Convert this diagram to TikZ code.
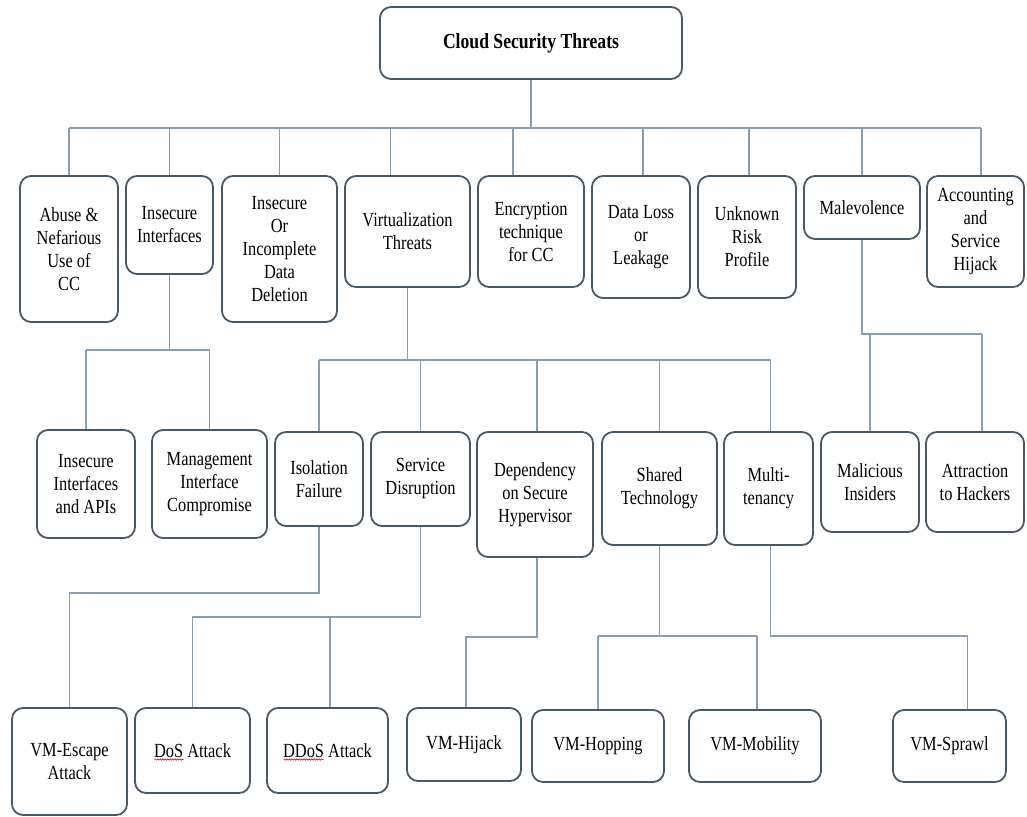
\documentclass[tikz,border=0pt]{standalone}
\usepackage{fontspec}
\setmainfont{Liberation Serif}
\newfontfamily\cfont[FakeStretch=0.82]{Liberation Serif}
\usetikzlibrary{decorations.pathmorphing}
\definecolor{boxline}{HTML}{4A5866}
\definecolor{connc}{HTML}{8A9DB2}
\begin{document}
\begin{tikzpicture}[x=1pt,y=-1pt,
  box/.style={draw=boxline,line width=1.8pt,rounded corners=11pt,fill=white,inner sep=0pt,align=center,font=\cfont\fontsize{20}{23}\selectfont},
  conn/.style={draw=connc,line width=1.6pt},
  wavy/.style={draw=red,line width=0.6pt,decorate,decoration={snake,amplitude=0.7pt,segment length=2.5pt}}]
\useasboundingbox (0,0) rectangle (1027,816);
% root
\node[box,minimum width=302pt,minimum height=72pt,font=\cfont\fontsize{21.5}{24}\selectfont\bfseries] (root) at (531,43) {Cloud Security Threats};
% level 1
\node[box,minimum width=98pt,minimum height=146pt] (ab) at (69,249) {Abuse \&\\Nefarious\\Use of\\CC};
\node[box,minimum width=87pt,minimum height=98pt] (ii) at (169.5,225) {Insecure\\Interfaces};
\node[box,minimum width=115pt,minimum height=146pt] (iod) at (279.5,249) {Insecure\\Or\\Incomplete\\Data\\Deletion};
\node[box,minimum width=125pt,minimum height=111pt] (vt) at (407.5,231.5) {Virtualization\\Threats};
\node[box,minimum width=106pt,minimum height=111pt] (enc) at (531,231.5) {Encryption\\technique\\for CC};
\node[box,minimum width=98pt,minimum height=122pt] (dl) at (641,237) {Data Loss\\or\\Leakage};
\node[box,minimum width=98pt,minimum height=122pt] (ur) at (747,237) {Unknown\\Risk\\Profile};
\node[box,minimum width=116pt,minimum height=63pt] (mal) at (862,207.5) {Malevolence};
\node[box,minimum width=97pt,minimum height=111pt] (acc) at (975.5,231.5) {Accounting\\and\\Service\\Hijack};
% level 2
\node[box,minimum width=98pt,minimum height=108pt] (iapi) at (86,484) {Insecure\\Interfaces\\and APIs};
\node[box,minimum width=115pt,minimum height=108pt] (mic) at (209.5,484) {Management\\Interface\\Compromise};
\node[box,minimum width=88pt,minimum height=94pt] (iso) at (319,479) {Isolation\\Failure};
\node[box,minimum width=99pt,minimum height=94pt] (sd) at (420.5,479) {Service\\Disruption};
\node[box,minimum width=116pt,minimum height=125pt] (dep) at (535,494.5) {Dependency\\on Secure\\Hypervisor};
\node[box,minimum width=115pt,minimum height=113pt] (st) at (659.5,488.5) {Shared\\Technology};
\node[box,minimum width=89pt,minimum height=113pt] (mt) at (768.5,488.5) {Multi-\\tenancy};
\node[box,minimum width=98pt,minimum height=100pt] (mi) at (870,482) {Malicious\\Insiders};
\node[box,minimum width=98pt,minimum height=100pt] (ath) at (975,482) {Attraction\\to Hackers};
% level 3
\node[box,minimum width=115pt,minimum height=107pt] (vme) at (69.5,761.5) {VM-Escape\\Attack};
\node[box,minimum width=115pt,minimum height=85pt] (dos) at (192.5,750.5) {DoS Attack};
\node[box,minimum width=121pt,minimum height=85pt] (ddos) at (327.5,750.5) {DDoS Attack};
\node[box,minimum width=114pt,minimum height=73pt] (vmh) at (464,744.5) {VM-Hijack};
\node[box,minimum width=132pt,minimum height=72pt] (vhop) at (598,746) {VM-Hopping};
\node[box,minimum width=132pt,minimum height=72pt] (vmob) at (755,746) {VM-Mobility};
\node[box,minimum width=113pt,minimum height=72pt] (vsp) at (949.5,746) {VM-Sprawl};
% spell-check underlines
\draw[wavy] ([xshift=-38pt,yshift=-9pt]dos.center) -- ([xshift=-9pt,yshift=-9pt]dos.center);
\draw[wavy] ([xshift=-44pt,yshift=-9pt]ddos.center) -- ([xshift=-4pt,yshift=-9pt]ddos.center);
% bus coordinates
\coordinate (b0) at (0,128);
\coordinate (b1) at (0,350);
\coordinate (b2) at (0,360);
\coordinate (b3) at (0,334);
\coordinate (b4) at (0,593);
\coordinate (b5) at (0,617);
\coordinate (b6) at (0,637);
\coordinate (b7) at (0,636);
% root connectors
\draw[conn] (root.south) -- (root.south |- b0);
\draw[conn] (ab.north |- b0) -- ([xshift=5.5pt]acc.north |- b0);
\draw[conn] (ab.north) -- (ab.north |- b0);
\draw[conn] (ii.north) -- (ii.north |- b0);
\draw[conn] (iod.north) -- (iod.north |- b0);
\draw[conn] ([xshift=-17pt]vt.north) -- ([xshift=-17pt]vt.north |- b0);
\draw[conn] ([xshift=-18pt]enc.north) -- ([xshift=-18pt]enc.north |- b0);
\draw[conn] ([xshift=2pt]dl.north) -- ([xshift=2pt]dl.north |- b0);
\draw[conn] ([xshift=2pt]ur.north) -- ([xshift=2pt]ur.north |- b0);
\draw[conn] (mal.north) -- (mal.north |- b0);
\draw[conn] ([xshift=5.5pt]acc.north) -- ([xshift=5.5pt]acc.north |- b0);
% insecure interfaces
\draw[conn] (ii.south) -- (ii.south |- b1);
\draw[conn] (iapi.north |- b1) -- (mic.north |- b1);
\draw[conn] (iapi.north) -- (iapi.north |- b1);
\draw[conn] (mic.north) -- (mic.north |- b1);
% virtualization
\draw[conn] (vt.south) -- (vt.south |- b2);
\draw[conn] (iso.north |- b2) -- ([xshift=2pt]mt.north |- b2);
\draw[conn] (iso.north) -- (iso.north |- b2);
\draw[conn] (sd.north) -- (sd.north |- b2);
\draw[conn] ([xshift=2pt]dep.north) -- ([xshift=2pt]dep.north |- b2);
\draw[conn] (st.north) -- (st.north |- b2);
\draw[conn] ([xshift=2pt]mt.north) -- ([xshift=2pt]mt.north |- b2);
% malevolence
\draw[conn] (mal.south) -- (mal.south |- b3) -- ([xshift=7pt]ath.north |- b3);
\draw[conn] (mi.north) -- (mi.north |- b3);
\draw[conn] ([xshift=7pt]ath.north) -- ([xshift=7pt]ath.north |- b3);
% isolation failure
\draw[conn] (iso.south) -- (iso.south |- b4) -- (vme.north |- b4) -- (vme.north);
% service disruption
\draw[conn] (sd.south) -- (sd.south |- b5) -- (dos.north |- b5) -- (dos.north);
\draw[conn] ([xshift=2.5pt]ddos.north) -- ([xshift=2.5pt]ddos.north |- b5);
% dependency
\draw[conn] ([xshift=2pt]dep.south) -- ([xshift=2pt]dep.south |- b6) -- ([xshift=2pt]vmh.north |- b6) -- ([xshift=2pt]vmh.north);
% shared technology
\draw[conn] (st.south) -- (st.south |- b7);
\draw[conn] (vhop.north |- b7) -- ([xshift=2pt]vmob.north |- b7);
\draw[conn] (vhop.north) -- (vhop.north |- b7);
\draw[conn] ([xshift=2pt]vmob.north) -- ([xshift=2pt]vmob.north |- b7);
% multi-tenancy
\draw[conn] ([xshift=2pt]mt.south) -- ([xshift=2pt]mt.south |- b7) -- ([xshift=18pt]vsp.north |- b7) -- ([xshift=18pt]vsp.north);
\end{tikzpicture}
\end{document}
